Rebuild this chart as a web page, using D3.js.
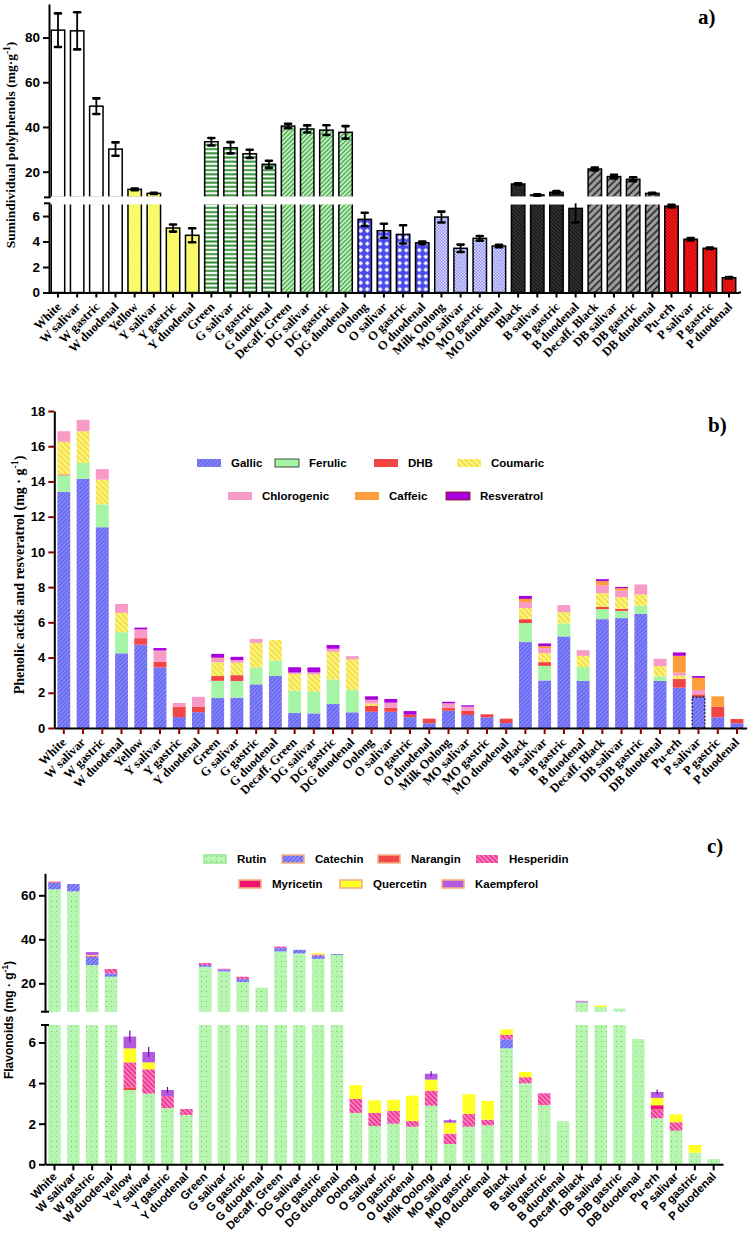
<!DOCTYPE html>
<html>
<head>
<meta charset="utf-8">
<script src="https://cdn.jsdelivr.net/npm/d3@7"></script>
<style>
body { margin: 0; background: #fff; }
</style>
</head>
<body>
<div id="chart"></div>
<script>
const W = 748, H = 1234
const SERIF = '"Liberation Serif", "Times New Roman", serif'
const SANS = '"Liberation Sans", Arial, sans-serif'

const teas = ["White","W salivar","W gastric","W duodenal","Yellow","Y salivar","Y gastric","Y duodenal",
  "Green","G salivar","G gastric","G duodenal","Decaff. Green","DG salivar","DG gastric","DG duodenal",
  "Oolong","O salivar","O gastric","O duodenal","Milk Oolong","MO salivar","MO gastric","MO duodenal",
  "Black","B salivar","B gastric","B duodenal","Decaff. Black","DB salivar","DB gastric","DB duodenal",
  "Pu-erh","P salivar","P gastric","P duodenal"]

// a) sum of individual polyphenols, mean and error
const sumMean = [83.3,83,49.3,30.1, 12.1,10.3,5.06,4.49, 33.4,30.7,28.0,23.3, 40.4,39.1,38.6,37.6,
  5.74,4.85,4.56,3.9, 5.92,3.47,4.25,3.65, 14.5,9.6,10.8,6.6, 21.2,17.8,16.6,10.3, 6.78,4.18,3.47,1.16]
const sumErr = [7.5,8.3,3.5,3.0, 0.4,0.3,0.28,0.55, 1.7,2.5,1.8,1.6, 1.0,1.6,2.2,2.8,
  0.52,0.55,0.72,0.1, 0.43,0.29,0.18,0.1, 0.3,0.3,0.5,1.1, 0.6,0.8,0.9,0.3, 0.1,0.1,0.05,0.05]

// b) phenolic acids and resveratrol
const phenolKeys = ["Gallic","Ferulic","DHB","Coumaric","Chlorogenic","Caffeic","Resveratrol"]
const gallic = [13.4,14.15,11.4,4.24, 4.73,3.44,0.62,0.9, 1.7,1.72,2.48,2.95, 0.85,0.83,1.36,0.89,
  0.92,0.92,0.61,0.27, 0.98,0.74,0.61,0.28, 4.88,2.7,5.2,2.67, 6.18,6.24,6.48,2.67, 2.29,1.76,0.61,0.27]
const ferulic = [0.95,0.9,1.3,1.2, 0,0,0,0, 0.98,0.95,0.96,0.87, 1.27,1.25,1.4,1.28,
  0,0,0,0, 0,0,0,0, 1.08,0.83,0.74,0.79, 0.57,0.41,0.46,0.26, 0,0,0,0]
const dhb = [0.05,0,0,0, 0.37,0.32,0.57,0.3, 0.27,0.33,0,0, 0,0,0,0,
  0.34,0.23,0.15,0.26, 0.15,0.24,0.17,0.25, 0.22,0.21,0,0, 0.13,0.12,0,0, 0.49,0.15,0.6,0.24]
const coumaric = [1.85,1.8,1.4,1.1, 0,0,0,0, 0.78,0.71,1.4,1.17, 0.96,0.97,1.57,1.73,
  0.13,0,0,0, 0,0,0,0, 0.63,0.51,0.64,0.64, 0.78,0.66,0.64,0.59, 0.19,0,0,0]
const chlorogenic = [0.6,0.65,0.6,0.5, 0.5,0.64,0.23,0.57, 0.22,0.15,0.21,0, 0.07,0.11,0.17,0.18,
  0.21,0.29,0,0, 0.27,0.23,0,0, 0.34,0.29,0.4,0.32, 0.45,0.38,0.57,0.41, 0.17,0.25,0,0]
const caffeic = [0,0,0,0, 0,0,0,0, 0.04,0,0,0, 0,0,0,0,
  0,0,0,0, 0,0,0,0, 0.18,0.11,0,0, 0.23,0.13,0,0, 0.96,0.69,0.59,0]
const resveratrol = [0,0,0,0, 0.1,0.14,0,0, 0.22,0.18,0,0, 0.3,0.28,0.21,0,
  0.2,0.21,0.2,0, 0.09,0.08,0,0, 0.17,0.15,0,0, 0.11,0.07,0,0, 0.19,0.1,0,0]

// c) flavonoids
const flavKeys = ["Rutin","Catechin","Narangin","Hesperidin","Myricetin","Quercetin","Kaempferol"]
const rutin = [62.7,61.8,28.3,23.0, 3.66,3.48,2.77,2.43, 27.5,25.4,20.6,18.0, 34.5,33.6,31.1,32.9,
  2.53,1.89,2.0,1.85, 2.89,1.0,1.85,1.92, 5.71,3.99,2.92,2.12, 11.3,9.2,8.5,6.17, 2.27,1.66,0.57,0.26]
const catechin = [3.1,3.3,3.7,1.5, 0,0,0,0, 0.8,0.8,1.3,0, 1.5,1.6,1.4,0.4,
  0,0,0,0, 0,0,0,0, 0.45,0,0,0, 0.4,0,0,0, 0,0,0,0]
const narangin = [0.4,0,0,0, 0.13,0,0,0, 0,0,0,0, 0,0,0,0,
  0,0,0,0, 0,0,0,0, 0,0,0,0, 0,0,0,0, 0,0,0,0]
const hesperidin = [0,0,0.6,2.0, 1.23,1.2,0.59,0.29, 0.9,0.4,1.1,0, 0.7,0,0.6,0,
  0.69,0.64,0.63,0.28, 0.74,0.51,0.63,0.28, 0.22,0.3,0.58,0, 0.3,0,0,0, 0.44,0.41,0,0]
const myricetin = [0,0,0,0, 0,0,0,0, 0,0,0,0, 0,0,0,0,
  0,0,0,0, 0,0,0,0, 0,0,0,0, 0,0,0,0, 0.2,0,0,0]
const quercetin = [0,0,0.3,0, 0.69,0.34,0,0, 0,0,0,0, 0,0,0.6,0,
  0.68,0.62,0.55,1.25, 0.54,0.54,0.97,0.92, 0.27,0.26,0,0, 0,0.7,0,0, 0.36,0.39,0.38,0]
const kaempferol = [0,0,1.3,0, 0.58,0.51,0.3,0, 0,0,0,0, 0,0,0,0,
  0,0,0,0, 0.29,0.12,0,0, 0,0,0,0, 0,0,0,0, 0.29,0,0,0]
const kaempErr = [0,0,0,0, 0.3,0.25,0.15,0, 0,0,0,0, 0,0,0,0,
  0,0,0,0, 0.12,0.05,0,0, 0,0,0,0, 0,0,0,0, 0.12,0,0,0]

const svg = d3.select('#chart').append('svg')
  .attr('width', W).attr('height', H)
const defs = svg.append('defs')

// ---------- patterns ----------
function hatch(id, bg, fg, period, angle, lw) {
  const p = defs.append('pattern').attr('id', id).attr('patternUnits', 'userSpaceOnUse')
    .attr('width', period).attr('height', period)
    .attr('patternTransform', `rotate(${angle})`)
  p.append('rect').attr('width', period).attr('height', period).attr('fill', bg)
  p.append('line').attr('x1', period / 2).attr('x2', period / 2)
    .attr('y1', 0).attr('y2', period).attr('stroke', fg).attr('stroke-width', lw)
}
function checker(id, c1, c2, s) {
  const p = defs.append('pattern').attr('id', id).attr('patternUnits', 'userSpaceOnUse')
    .attr('width', 2 * s).attr('height', 2 * s)
  p.append('rect').attr('width', 2 * s).attr('height', 2 * s).attr('fill', c1)
  p.append('rect').attr('width', s).attr('height', s).attr('fill', c2)
  p.append('rect').attr('x', s).attr('y', s).attr('width', s).attr('height', s).attr('fill', c2)
}
function diamonds(id, bg, fg, s) {
  const p = defs.append('pattern').attr('id', id).attr('patternUnits', 'userSpaceOnUse')
    .attr('width', s).attr('height', s)
  p.append('rect').attr('width', s).attr('height', s).attr('fill', bg)
  const h = s / 2, r = s * 0.36
  p.append('polygon').attr('points', `${h},${h - r} ${h + r},${h} ${h},${h + r} ${h - r},${h}`).attr('fill', fg)
}
function dots(id, bg, fg, s) {
  const p = defs.append('pattern').attr('id', id).attr('patternUnits', 'userSpaceOnUse')
    .attr('width', s).attr('height', s)
  p.append('rect').attr('width', s).attr('height', s).attr('fill', bg)
  p.append('rect').attr('x', 1).attr('y', 1).attr('width', 1).attr('height', 1).attr('fill', fg)
}
function crossHatch(id, bg, fg, s) {
  const p = defs.append('pattern').attr('id', id).attr('patternUnits', 'userSpaceOnUse')
    .attr('width', s).attr('height', s).attr('patternTransform', 'rotate(45)')
  p.append('rect').attr('width', s).attr('height', s).attr('fill', bg)
  p.append('line').attr('x1', 0).attr('x2', s).attr('y1', 0.5).attr('y2', 0.5).attr('stroke', fg).attr('stroke-width', 0.8)
  p.append('line').attr('x1', 0.5).attr('x2', 0.5).attr('y1', 0).attr('y2', s).attr('stroke', fg).attr('stroke-width', 0.8)
}

checker('aYellow', '#f4f43a', '#ffff9a', 1.5)
hatch('aGreen', '#ffffff', '#2f8f2f', 4.2, 90, 2)
hatch('aDGreen', '#c6f3c6', '#3c9c3c', 3.2, 45, 1.2)
diamonds('aOolong', '#4a4aee', '#ffffff', 6.5)
checker('aMilk', '#dcdcff', '#8e8ef2', 1.5)
hatch('aBlack', '#3a3a3a', '#0c0c0c', 2.6, -45, 1.1)
hatch('aDBlack', '#a2a2a2', '#1a1a1a', 5, 45, 1.6)
crossHatch('aPuerh', '#ff2626', '#c80000', 2.5)

hatch('bGallic', '#6b6bf0', '#8e8eff', 3, 45, 1)
hatch('bCoumaric', '#f2e23c', '#fff7a8', 4, -45, 1.6)
dots('cRutin', '#b8f5b2', '#6fd63a', 5)
hatch('cCatechin', '#6b6bf0', '#a0a0ff', 3, 45, 1)
hatch('cHesperidin', '#ec3a94', '#ff9fce', 3.4, -45, 1.2)

const fillA = ['#ffffff', 'url(#aYellow)', 'url(#aGreen)', 'url(#aDGreen)', 'url(#aOolong)',
  'url(#aMilk)', 'url(#aBlack)', 'url(#aDBlack)', 'url(#aPuerh)']
const fillB = ['url(#bGallic)', '#a6f5a6', '#f24646', 'url(#bCoumaric)', '#f79ac6', '#ff9d3a', '#aa00dd']
const fillC = ['url(#cRutin)', 'url(#cCatechin)', '#f04848', 'url(#cHesperidin)', '#f0146e', '#ffff26', '#b45ae0']

// ---------- helpers ----------
function band(x0, x1, pad) {
  return d3.scaleBand().domain(teas).range([x0, x1]).paddingInner(pad).paddingOuter(pad / 2)
}

function stackedBars(g, rows, keys, x, segs, fills) {
  const series = d3.stack().keys(keys)(rows)
  series.forEach((s, k) => {
    segs.forEach(seg => {
      const [lo, hi] = seg.domain()
      g.append('g').selectAll('rect')
        .data(s.filter(d => d[1] > d[0] && d[1] > lo && d[0] < hi))
        .join('rect')
          .attr('x', d => x(d.data.tea))
          .attr('width', x.bandwidth())
          .attr('y', d => seg(Math.min(d[1], hi)))
          .attr('height', d => seg(Math.max(d[0], lo)) - seg(Math.min(d[1], hi)))
          .attr('fill', fills[k])
    })
  })
  return series
}

function styleAxis(ax, tickColor, font, size) {
  ax.select('.domain').attr('stroke', '#000').attr('stroke-width', 2)
  ax.selectAll('.tick line').attr('stroke', tickColor).attr('stroke-width', 2)
  ax.selectAll('.tick text').attr('fill', '#000')
    .style('font-family', font).style('font-size', size + 'px').style('font-weight', 'bold')
}

function rotLabels(ax, font, size, dx, dy) {
  ax.selectAll('.tick text')
    .attr('x', 0).attr('y', 0).attr('dy', 0)
    .attr('transform', `translate(${dx},${dy}) rotate(-45)`)
    .attr('text-anchor', 'end')
    .style('font-family', font).style('font-size', size + 'px').style('font-weight', 'bold')
    .attr('fill', '#000')
}

function yTitle(x, y, font, size, main) {
  const t = svg.append('text')
    .attr('transform', `translate(${x},${y}) rotate(-90)`)
    .attr('text-anchor', 'middle')
    .style('font-family', font).style('font-size', size + 'px').style('font-weight', 'bold')
  t.append('tspan').text(main)
  t.append('tspan').attr('dy', -size * 0.4).style('font-size', (size * 0.7) + 'px').text('-1')
  t.append('tspan').attr('dy', size * 0.4).text(')')
}

function panelLabel(x, y, txt) {
  svg.append('text').attr('x', x).attr('y', y)
    .style('font-family', SERIF).style('font-size', '21px').style('font-weight', 'bold')
    .text(txt)
}

const intFmt = d3.format('d')

// ================= a) =================
const xA = band(48.4, 738.6, 0.3)
const yATop = d3.scaleLinear().domain([8.5, 95]).range([197.4, 4])
const yABot = d3.scaleLinear().domain([0, 7]).range([292.5, 203.3])
const axA = 49

const gA = svg.append('g')
const rowsA = teas.map((t, i) => ({ tea: t, total: sumMean[i] }))
;[yATop, yABot].forEach(seg => {
  const [lo, hi] = seg.domain()
  gA.append('g').selectAll('rect')
    .data(rowsA.filter(d => d.total > lo))
    .join('rect')
      .attr('x', d => xA(d.tea))
      .attr('width', xA.bandwidth())
      .attr('y', d => seg(Math.min(d.total, hi)))
      .attr('height', d => seg(lo) - seg(Math.min(d.total, hi)))
      .attr('fill', d => fillA[Math.floor(teas.indexOf(d.tea) / 4)])
      .attr('stroke', '#000')
      .attr('stroke-width', 1.5)
})

// break band across the bars
svg.append('rect').attr('x', axA + 2).attr('width', W - axA - 2)
  .attr('y', yATop.range()[0] - 1).attr('height', yABot.range()[1] - yATop.range()[0] + 2.2)
  .attr('fill', '#fff')

// error bars
const errG = svg.append('g').attr('stroke', '#000')
teas.forEach((t, i) => {
  const seg = sumMean[i] > 7 ? yATop : yABot
  const [lo, hi] = seg.domain()
  const cx = xA(t) + xA.bandwidth() / 2
  const top = Math.min(sumMean[i] + sumErr[i], hi), bot = Math.max(sumMean[i] - sumErr[i], lo)
  errG.append('line').attr('x1', cx).attr('x2', cx).attr('y1', seg(top)).attr('y2', seg(bot)).attr('stroke-width', 1.8)
  if (sumMean[i] + sumErr[i] <= hi)
    errG.append('line').attr('x1', cx - 3).attr('x2', cx + 3).attr('y1', seg(top)).attr('y2', seg(top))
      .attr('stroke-width', 2.6).attr('stroke-linecap', 'round')
  errG.append('line').attr('x1', cx - 3).attr('x2', cx + 3).attr('y1', seg(bot)).attr('y2', seg(bot))
    .attr('stroke-width', 2.6).attr('stroke-linecap', 'round')
})

const ayTop = svg.append('g').attr('transform', `translate(${axA},0)`)
  .call(d3.axisLeft(yATop).tickValues([20, 40, 60, 80]).tickFormat(intFmt).tickSize(6).tickSizeOuter(0))
const ayBot = svg.append('g').attr('transform', `translate(${axA},0)`)
  .call(d3.axisLeft(yABot).tickValues([0, 2, 4, 6]).tickFormat(intFmt).tickSize(6).tickSizeOuter(0))
;[ayTop, ayBot].forEach(a => styleAxis(a, '#000', SANS, 13.5))
svg.append('line').attr('x1', axA - 5).attr('x2', axA + 1).attr('y1', yATop.range()[0]).attr('y2', yATop.range()[0]).attr('stroke', '#000').attr('stroke-width', 2)
svg.append('line').attr('x1', axA - 5).attr('x2', axA + 1).attr('y1', yABot.range()[1]).attr('y2', yABot.range()[1]).attr('stroke', '#000').attr('stroke-width', 2)

const axA_x = svg.append('g').attr('transform', `translate(0,${yABot(0)})`)
  .call(d3.axisBottom(xA).tickSize(5).tickSizeOuter(0))
styleAxis(axA_x, '#000', SERIF, 12.5)
rotLabels(axA_x, SERIF, 12.5, 4, 15)
svg.append('line').attr('x1', xA.range()[1]).attr('x2', 741).attr('y1', yABot(0)).attr('y2', yABot(0))
  .attr('stroke', '#000').attr('stroke-width', 2)

yTitle(15, 145, SERIF, 13.5, 'Sumindividual polyphenols (mg·g')
panelLabel(698, 24, 'a)')

// ================= b) =================
const xB = band(54.2, 746.6, 0.33)
const yB = d3.scaleLinear().domain([0, 18]).range([728, 411])
const rowsB = teas.map((t, i) => ({ tea: t, Gallic: gallic[i], Ferulic: ferulic[i], DHB: dhb[i],
  Coumaric: coumaric[i], Chlorogenic: chlorogenic[i], Caffeic: caffeic[i], Resveratrol: resveratrol[i] }))
const seriesB = stackedBars(svg.append('g'), rowsB, phenolKeys, xB, [yB], fillB)

// dashed outline on P salivar gallic segment
const ps = seriesB[0].find(d => d.data.tea === 'P salivar')
svg.append('rect').attr('x', xB('P salivar')).attr('width', xB.bandwidth())
  .attr('y', yB(ps[1])).attr('height', yB(ps[0]) - yB(ps[1]))
  .attr('fill', 'none').attr('stroke', '#000').attr('stroke-width', 1).attr('stroke-dasharray', '2,1.5')

const ayB = svg.append('g').attr('transform', `translate(54.3,0)`)
  .call(d3.axisLeft(yB).tickValues(d3.range(0, 19, 2)).tickFormat(intFmt).tickSize(6).tickSizeOuter(0))
styleAxis(ayB, '#8b0000', SANS, 13)
const axB = svg.append('g').attr('transform', `translate(0,${yB(0)})`)
  .call(d3.axisBottom(xB).tickSize(6).tickSizeOuter(0))
styleAxis(axB, '#8b0000', SERIF, 12.5)
rotLabels(axB, SERIF, 12.5, 3, 15)

yTitle(24, 575, SERIF, 14, 'Phenolic acids and resveratrol (mg · g')
panelLabel(708, 432, 'b)')

// legend b
const legB = [[197, 463], [275, 463], [374, 463], [457, 463], [228, 496], [355, 496], [446, 496]]
phenolKeys.forEach((k, i) => {
  const [lx, ly] = legB[i]
  svg.append('rect').attr('x', lx).attr('y', ly - 4).attr('width', 24).attr('height', 8)
    .attr('fill', fillB[i])
    .attr('stroke', k === 'Ferulic' ? '#222' : (k === 'Resveratrol' ? '#8a1010' : 'none'))
    .attr('stroke-width', 0.8)
  svg.append('text').attr('x', lx + 34).attr('y', ly + 4)
    .style('font-family', SANS).style('font-size', '11.5px').style('font-weight', 'bold')
    .text(k)
})

// ================= c) =================
const xC = band(45.1, 723.1, 0.33)
const yCTop = d3.scaleLinear().domain([7.1, 70]).range([1011.7, 873.3])
const yCBot = d3.scaleLinear().domain([0, 6.86]).range([1164.3, 1025])
const axC = 45
const rowsC = teas.map((t, i) => ({ tea: t, Rutin: rutin[i], Catechin: catechin[i], Narangin: narangin[i],
  Hesperidin: hesperidin[i], Myricetin: myricetin[i], Quercetin: quercetin[i], Kaempferol: kaempferol[i] }))
const seriesC = stackedBars(svg.append('g'), rowsC, flavKeys, xC, [yCTop, yCBot], fillC)

// kaempferol error marks
seriesC[6].forEach((d, i) => {
  if (!kaempErr[i]) return
  const cx = xC(d.data.tea) + xC.bandwidth() / 2
  svg.append('line').attr('x1', cx).attr('x2', cx)
    .attr('y1', yCBot(d[1] + kaempErr[i])).attr('y2', yCBot(d[1] - kaempErr[i]))
    .attr('stroke', '#7a00b0').attr('stroke-width', 1.2)
})

const ayCTop = svg.append('g').attr('transform', `translate(${axC},0)`)
  .call(d3.axisLeft(yCTop).tickValues([20, 40, 60]).tickFormat(intFmt).tickSize(6).tickSizeOuter(0))
const ayCBot = svg.append('g').attr('transform', `translate(${axC},0)`)
  .call(d3.axisLeft(yCBot).tickValues([0, 2, 4, 6]).tickFormat(intFmt).tickSize(6).tickSizeOuter(0))
;[ayCTop, ayCBot].forEach(a => styleAxis(a, '#000', SANS, 13.5))
svg.append('line').attr('x1', axC - 4).attr('x2', axC + 4).attr('y1', yCTop.range()[0]).attr('y2', yCTop.range()[0]).attr('stroke', '#000').attr('stroke-width', 2)
svg.append('line').attr('x1', axC - 4).attr('x2', axC + 4).attr('y1', yCBot.range()[1]).attr('y2', yCBot.range()[1]).attr('stroke', '#000').attr('stroke-width', 2)

const axCx = svg.append('g').attr('transform', `translate(0,${yCBot(0)})`)
  .call(d3.axisBottom(xC).tickSize(6).tickSizeOuter(0))
styleAxis(axCx, '#000', SANS, 11.5)
rotLabels(axCx, SANS, 11.5, 3, 13)

yTitle(12.5, 1020, SANS, 12, 'Flavonoids (mg · g')
panelLabel(707, 853, 'c)')

// legend c
const legC = [[204, 859], [282, 859], [378, 859], [476, 859], [239, 884], [340, 884], [442, 884]]
const legCBorder = ['#9be89b', '#f4b183', '#f4b183', 'none', '#f4b183', '#f4b183', '#f4b183']
flavKeys.forEach((k, i) => {
  const [lx, ly] = legC[i]
  svg.append('rect').attr('x', lx).attr('y', ly - 4).attr('width', 22).attr('height', 8)
    .attr('fill', fillC[i]).attr('stroke', legCBorder[i]).attr('stroke-width', 1.6)
  svg.append('text').attr('x', lx + 33).attr('y', ly + 4)
    .style('font-family', SANS).style('font-size', '11.5px').style('font-weight', 'bold')
    .text(k)
})
</script>
</body>
</html>
